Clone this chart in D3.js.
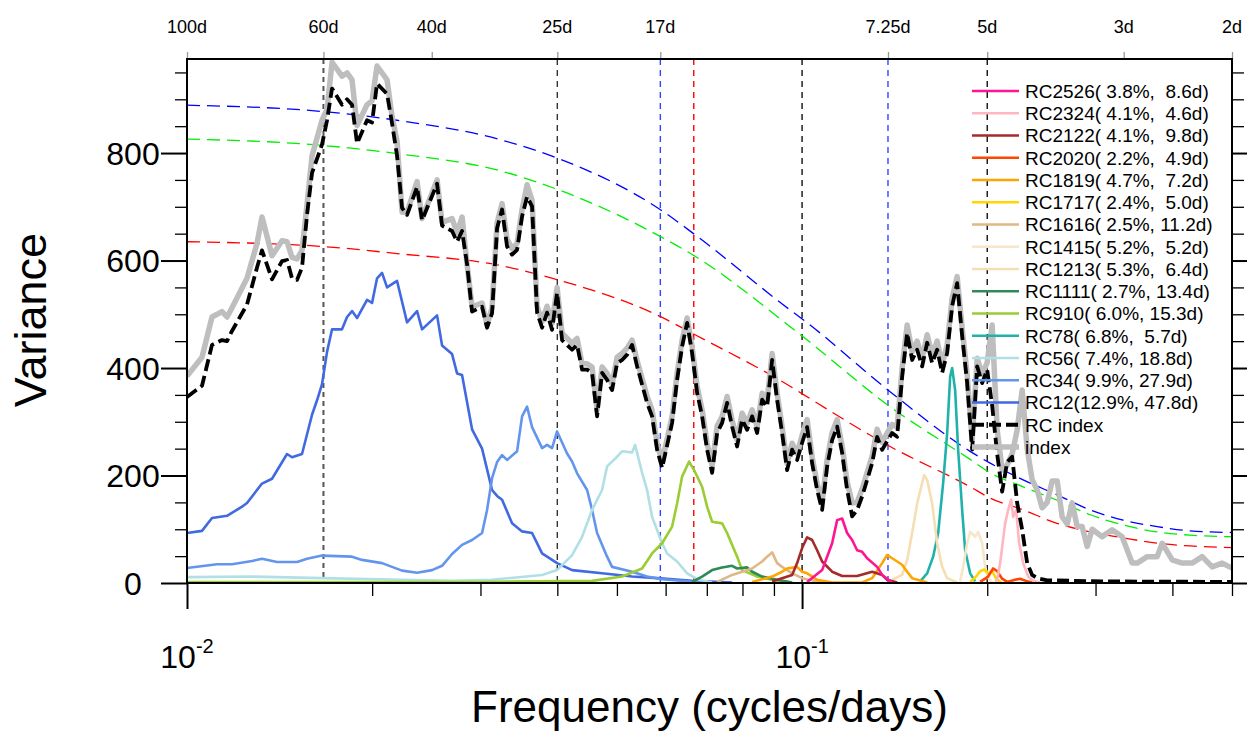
<!DOCTYPE html>
<html>
<head>
<meta charset="utf-8">
<script src="https://cdn.jsdelivr.net/npm/d3@7"></script>
<style>
  body { margin: 0; background: #fff; }
  text { font-family: "Liberation Sans", Arial, Helvetica, sans-serif; fill: #000; }
</style>
</head>
<body>
<svg id="chart" width="1247" height="738"></svg>
<script>
// ---------------------------------------------------------------------------
// Spectra: [frequency (cycles/day), variance]
// ---------------------------------------------------------------------------
const indexSpec = [
  [0.0100,385],[0.010578,420],[0.010981,495],[0.011400,505],[0.011616,495],[0.011835,512],
  [0.012519,567],[0.012997,632],[0.013242,681],[0.013748,609],[0.014272,637],[0.014542,635],
  [0.014817,606],[0.015097,603],[0.015382,619],[0.015673,704],[0.015969,795],[0.016578,861],
  [0.016892,881],[0.017211,969],[0.017867,943],[0.018205,949],[0.018549,936],[0.018900,851],
  [0.019621,890],[0.019992,897],[0.020370,962],[0.021147,936],[0.021547,868],[0.021954,822],
  [0.022369,690],[0.022791,690],[0.023661,747],[0.024108,678],[0.025501,750],[0.025983,671],
  [0.026974,678],[0.027484,652],[0.028002,681],[0.028532,593],[0.029071,514],[0.030180,521],
  [0.030751,480],[0.031331,512],[0.031924,670],[0.032527,706],[0.033142,640],[0.033768,622],
  [0.034406,632],[0.035056,695],[0.035719,741],[0.036393,712],[0.037082,515],[0.037782,487],
  [0.038496,515],[0.039223,483],[0.039965,550],[0.040720,465],[0.042274,446],[0.043073,455],
  [0.043886,408],[0.044716,408],[0.045561,402],[0.046422,322],[0.047299,402],[0.048193,390],
  [0.049104,370],[0.050032,420],[0.050977,427],[0.051941,437],[0.052922,452],[0.053922,414],
  [0.055979,347],[0.057038,322],[0.058115,260],[0.059214,226],[0.061473,310],[0.062634,390],
  [0.063818,452],[0.065024,493],[0.066253,440],[0.067505,366],[0.068781,322],[0.070080,260],
  [0.071405,218],[0.072754,292],[0.074129,310],[0.075530,347],[0.076957,303],[0.078411,266],
  [0.079893,316],[0.081403,297],[0.082941,322],[0.084508,291],[0.086106,353],[0.087733,340],
  [0.089391,427],[0.091080,353],[0.092801,291],[0.094555,222],[0.096342,260],[0.098162,241],
  [0.100017,275],[0.101907,304],[0.103833,235],[0.105795,185],[0.107795,150],[0.109832,230],
  [0.111908,280],[0.114022,304],[0.116177,255],[0.118372,188],[0.120609,149],[0.122888,150],
  [0.125211,175],[0.129988,236],[0.132444,286],[0.134947,262],[0.140096,295],[0.142743,290],
  [0.145440,400],[0.148189,480],[0.150989,430],[0.153843,450],[0.156750,418],[0.159712,462],
  [0.162730,424],[0.165806,450],[0.168938,406],[0.172132,443],[0.175384,530],[0.178699,570],
  [0.182075,475],[0.185517,388],[0.189021,265],[0.192595,418],[0.196232,388],[0.199943,410],
  [0.203719,480],[0.207571,285],[0.211491,210],[0.215491,220],[0.219560,240],[0.223712,285],
  [0.227936,359],[0.232248,250],[0.236632,192],[0.241109,173],[0.245660,140],[0.250308,150],
  [0.255032,190],[0.259858,190],[0.264762,123],[0.269772,110],[0.274863,149],[0.280065,105],
  [0.285350,105],[0.290750,68],[0.296236,100],[0.307538,86],[0.313359,93],[0.319271,99],
  [0.331451,86],[0.344097,37],[0.350612,37],[0.363988,49],[0.377876,49],[0.385001,74],
  [0.399689,43],[0.414938,37],[0.430768,37],[0.447202,49],[0.464264,30],[0.481975,37],[0.5,28]
];

const rcIndexSpec = [
  [0.0100,346],[0.010578,367],[0.010981,443],[0.011400,452],[0.011616,450],[0.011835,469],
  [0.012519,518],[0.012997,587],[0.013242,619],[0.013748,565],[0.014272,599],[0.014542,601],
  [0.014817,567],[0.015097,564],[0.015382,587],[0.015673,685],[0.015969,763],[0.016578,816],
  [0.016892,861],[0.017211,920],[0.017867,890],[0.018205,900],[0.018549,890],[0.018900,818],
  [0.019621,861],[0.019992,857],[0.020370,929],[0.021147,910],[0.021547,855],[0.021954,795],
  [0.022369,698],[0.022791,685],[0.023661,737],[0.024108,675],[0.025501,743],[0.025983,665],
  [0.026974,655],[0.027484,635],[0.028002,655],[0.028532,593],[0.029071,505],[0.030180,514],
  [0.030751,475],[0.031331,502],[0.031924,660],[0.032527,695],[0.033142,626],[0.033768,611],
  [0.034406,620],[0.035056,682],[0.035719,719],[0.036393,701],[0.037082,503],[0.037782,475],
  [0.038496,503],[0.039223,471],[0.039965,540],[0.040720,452],[0.042274,434],[0.043073,443],
  [0.043886,397],[0.044716,397],[0.045561,391],[0.046422,310],[0.047299,391],[0.048193,378],
  [0.049104,359],[0.050032,409],[0.050977,415],[0.051941,425],[0.052922,443],[0.053922,403],
  [0.055979,335],[0.057038,310],[0.058115,248],[0.059214,214],[0.061473,298],[0.062634,378],
  [0.063818,440],[0.065024,484],[0.066253,428],[0.067505,354],[0.068781,310],[0.070080,248],
  [0.071405,205],[0.072754,279],[0.074129,298],[0.075530,335],[0.076957,291],[0.078411,254],
  [0.079893,304],[0.081403,285],[0.082941,310],[0.084508,279],[0.086106,341],[0.087733,328],
  [0.089391,415],[0.091080,341],[0.092801,279],[0.094555,210],[0.096342,248],[0.098162,229],
  [0.100017,261],[0.101907,290],[0.103833,223],[0.105795,173],[0.107795,136],[0.109832,217],
  [0.111908,266],[0.114022,291],[0.116177,242],[0.118372,173],[0.120609,124],[0.122888,136],
  [0.125211,161],[0.129988,223],[0.132444,272],[0.134947,248],[0.140096,279],[0.142743,272],
  [0.145440,384],[0.148189,465],[0.150989,415],[0.153843,434],[0.156750,403],[0.159712,447],
  [0.162730,409],[0.165806,434],[0.168938,391],[0.172132,428],[0.175384,515],[0.178699,558],
  [0.182075,460],[0.185517,372],[0.189021,248],[0.192595,403],[0.196232,372],[0.199943,397],
  [0.203719,330],[0.207571,240],[0.211491,170],[0.215491,225],[0.219560,235],[0.223712,149],
  [0.227936,99],[0.232248,37],[0.236632,15],[0.241109,9],[0.250308,5],[0.307538,3],[0.5,2]
];

// Red-noise reference spectra
const noiseFreq  = [0.0100,0.0167,0.02195,0.03228,0.04011,0.05877,0.06699,0.09561,0.1004,0.1390,
                    0.1876,0.2022,0.2288,0.2597,0.2940,0.3327,0.3778,0.4274,0.5];
const noiseUpper = [889,877,861,825,790,695,648,508,490,356,245,223,192,164,136,117,105,97,94];
const noiseMid   = [826,814,799,767,732,645,608,477,458,328,230,205,179,154,127,108,95,89,86];
const noiseRed   = [635,626,613,591,564,496,462,366,351,254,179,158,136,111,95,84,74,69,66];

// Reconstructed-component spectra
const rc12 = [
  [0.0100,93],[0.010578,97],[0.010981,121],[0.011616,125],[0.012287,142],[0.012519,149],
  [0.013242,185],[0.013748,194],[0.014542,240],[0.014817,234],[0.015382,240],[0.015969,313],
  [0.016271,340],[0.016578,370],[0.016892,430],[0.017211,472],[0.017867,472],[0.018205,495],
  [0.018549,506],[0.018900,493],[0.019621,527],[0.019992,521],[0.020370,567],[0.020755,577],
  [0.021147,550],[0.021954,562],[0.022791,485],[0.023661,506],[0.024108,472],[0.025501,498],
  [0.025983,442],[0.026974,426],[0.027484,390],[0.028002,387],[0.029071,286],[0.030180,250],
  [0.031331,173],[0.031924,162],[0.032527,155],[0.033768,111],[0.035056,96],[0.036393,93],
  [0.037782,55],[0.039965,37],[0.042274,24],[0.047299,18],[0.052922,12],[0.058115,9],
  [0.066253,4],[0.076957,1]
];
const rc34 = [
  [0.0100,28],[0.011189,35],[0.011835,35],[0.012756,41],[0.013242,45],[0.014008,39],
  [0.015097,39],[0.015673,45],[0.016578,51],[0.018549,49],[0.019257,43],[0.020755,37],
  [0.022369,23],[0.023661,19],[0.025028,24],[0.025983,32],[0.026974,54],[0.028002,71],
  [0.029071,80],[0.030180,93],[0.030751,136],[0.031331,195],[0.031924,225],[0.032527,238],
  [0.033142,229],[0.034406,245],[0.035056,310],[0.035719,328],[0.036393,290],[0.037782,251],
  [0.038496,257],[0.039223,251],[0.039965,282],[0.041490,241],[0.042274,226],[0.043073,204],
  [0.044716,173],[0.045561,136],[0.046422,93],[0.048193,49],[0.049104,30],[0.052922,21],
  [0.055979,12],[0.059214,7],[0.068781,1]
];
const rc56 = [
  [0.0100,11],[0.012756,12],[0.016578,9],[0.022369,6],[0.026974,4],[0.031331,6],[0.037782,15],
  [0.039965,24],[0.042274,52],[0.043886,86],[0.045561,136],[0.047299,173],[0.048193,217],
  [0.050032,235],[0.050977,245],[0.052922,243],[0.05352,257],[0.054941,205],[0.055979,173],
  [0.057038,123],[0.059214,74],[0.060332,55],[0.062634,40],[0.065024,18],[0.067505,7],[0.071405,1]
];
const rc78 = [
  [0.15558,3],[0.159712,18],[0.16334,49],[0.16643,93],[0.16957,186],[0.172132,279],[0.17408,384],
  [0.175384,400],[0.17736,359],[0.17937,248],[0.182075,136],[0.18413,61],[0.18761,18],[0.19115,3]
];
const rc910 = [
  [0.0100,2],[0.030180,2],[0.045561,4],[0.050977,12],[0.054941,27],[0.057038,55],[0.059214,74],
  [0.061473,105],[0.062634,148],[0.063818,198],[0.06551,226],[0.06675,210],[0.068781,179],
  [0.070080,142],[0.071405,114],[0.074129,111],[0.075530,93],[0.078411,49],[0.079893,24],
  [0.084508,12],[0.089391,6],[0.096342,1]
];
const rc1111 = [
  [0.066253,2],[0.068781,12],[0.071405,24],[0.074129,29],[0.076957,32],[0.078411,27],
  [0.081403,29],[0.082941,21],[0.086106,12],[0.091080,6],[0.096342,1]
];
const rc1213 = [
  [0.140096,6],[0.145440,15],[0.148189,43],[0.150989,93],[0.153843,148],[0.156750,186],
  [0.15793,201],[0.159712,192],[0.162730,148],[0.165806,74],[0.168938,30],[0.172132,9],[0.178699,1]
];
const rc1415 = [
  [0.18071,3],[0.18276,30],[0.185517,74],[0.18761,95],[0.19115,86],[0.19332,95],
  [0.196232,74],[0.19844,30],[0.20069,9],[0.203719,1]
];
const rc1616 = [
  [0.072754,2],[0.076957,15],[0.082941,27],[0.086106,40],[0.087733,49],[0.089391,57],
  [0.091080,37],[0.092801,30],[0.096342,18],[0.100017,9],[0.107795,1]
];
const rc1717 = [
  [0.18761,2],[0.19187,12],[0.19476,22],[0.19770,25],[0.20069,18],[0.20372,22],[0.20679,8],[0.21070,1]
];
const rc1819 = [
  [0.082941,2],[0.089391,12],[0.092801,21],[0.094555,27],[0.098162,30],[0.100017,21],
  [0.101907,18],[0.105795,6],[0.111908,1],[0.125211,1],[0.129988,9],[0.134947,37],
  [0.137497,52],[0.140096,46],[0.145440,34],[0.148189,21],[0.150989,9],[0.159712,1]
];
const rc2020 = [
  [0.19476,2],[0.20069,12],[0.20448,27],[0.20757,22],[0.21149,8],[0.21549,2],
  [0.22203,6],[0.22623,8],[0.23225,3],[0.23663,1]
];
const rc2122 = [
  [0.089391,3],[0.096342,15],[0.098162,37],[0.100017,65],[0.101907,85],[0.103833,80],
  [0.105795,61],[0.107795,40],[0.111908,21],[0.116177,13],[0.122888,13],[0.129988,21],
  [0.134947,15],[0.137497,6],[0.142743,1]
];
const rc2324 = [
  [0.20601,2],[0.20757,6],[0.20990,37],[0.21387,111],[0.21630,136],[0.21874,155],[0.22038,123],
  [0.22287,136],[0.22539,74],[0.22879,37],[0.23312,12],[0.23752,4],[0.24382,1]
];
const rc2526 = [
  [0.101907,2],[0.107795,24],[0.111908,74],[0.114022,117],[0.116177,120],[0.118372,93],
  [0.120609,80],[0.122888,61],[0.125211,58],[0.127577,46],[0.132444,30],[0.134947,15],[0.140096,1]
];

// Component names, explained variance (%) and dominant period (days), legend order
const rcNames   = ["RC2526","RC2324","RC2122","RC2020","RC1819","RC1717","RC1616","RC1415",
                   "RC1213","RC1111","RC910","RC78","RC56","RC34","RC12"];
const rcPercent = [3.8, 4.1, 4.1, 2.2, 4.7, 2.4, 2.5, 5.2, 5.3, 2.7, 6.0, 6.8, 7.4, 9.9, 12.9];
const rcPeriod  = [8.6, 4.6, 9.8, 4.9, 7.2, 5.0, 11.2, 5.2, 6.4, 13.4, 15.3, 5.7, 18.8, 27.9, 47.8];
const rcColors  = ["#ff1493","#ffb6c1","#a52a2a","#ff4500","#ffa500","#ffd700","#deb887","#f7e6c9",
                   "#f5deb3","#2e8b57","#9acd32","#20b2aa","#b0e0e6","#6495ed","#4169e1"];
const rcSpectra = [rc2526, rc2324, rc2122, rc2020, rc1819, rc1717, rc1616, rc1415,
                   rc1213, rc1111, rc910, rc78, rc56, rc34, rc12];

// Axis ticks and marked periods
const yMajorTicks = [0, 200, 400, 600, 800];
const yMinorTicks = [50,100,150,250,300,350,450,500,550,650,700,750,850,900,950];
const xMajorTicks = [0.01, 0.1];
const xMinorTicks = [0.02,0.03,0.04,0.05,0.06,0.07,0.08,0.09,0.2,0.3,0.4,0.5];
const xMajorExp   = ["-2", "-1"];
const topPeriods  = [100, 60, 40, 25, 17, 7.25, 5, 3, 2];
const markPeriods = [60, 25, 17, 15, 10, 7.25, 5];
const markColors  = ["#555555", "#333333", "#3344ff", "#ff0000", "#111111", "#3344ff", "#111111"];

// ---------------------------------------------------------------------------
const L = 187, R = 1232, T = 59, B = 583;
const svg = d3.select("#chart");
const x = d3.scaleLog().domain([0.01, 0.5]).range([L, R]);
const y = d3.scaleLinear().domain([0, 975]).range([B, T]);

svg.append("defs").append("clipPath").attr("id", "plotClip")
  .append("rect").attr("x", L).attr("y", T).attr("width", R - L).attr("height", B - T);

const plot = svg.append("g").attr("clip-path", "url(#plotClip)");
const line = d3.line().x(d => x(d[0])).y(d => y(d[1]));

// vertical period markers
plot.selectAll("line.mark").data(markPeriods).join("line")
  .attr("class", "mark")
  .attr("x1", p => x(1 / p)).attr("x2", p => x(1 / p))
  .attr("y1", T).attr("y2", B)
  .attr("stroke", (p, i) => markColors[i])
  .attr("stroke-width", (p, i) => i === 0 ? 2 : 1.4)
  .attr("stroke-dasharray", (p, i) => i === 0 ? "5,4" : "6,5");

// red-noise curves
const noiseLine = d3.line().x(d => x(d[0])).y(d => y(d[1])).curve(d3.curveMonotoneX);
[[noiseUpper, "#0000ff"], [noiseMid, "#00ee00"], [noiseRed, "#ff0000"]].forEach(([vals, c]) => {
  plot.append("path")
    .attr("d", noiseLine(noiseFreq.map((f, i) => [f, vals[i]])))
    .attr("fill", "none").attr("stroke", c).attr("stroke-width", 1.3)
    .attr("stroke-dasharray", "13,7");
});

// component spectra (RC12 drawn first)
rcSpectra.slice().reverse().forEach((s, k) => {
  const i = rcSpectra.length - 1 - k;
  plot.append("path").attr("d", line(s))
    .attr("fill", "none").attr("stroke", rcColors[i])
    .attr("stroke-width", 2.6).attr("stroke-linejoin", "round");
});

// full index and reconstructed index
plot.append("path").attr("d", line(indexSpec))
  .attr("fill", "none").attr("stroke", "#bebebe").attr("stroke-width", 5.5)
  .attr("stroke-linejoin", "round");
plot.append("path").attr("d", line(rcIndexSpec))
  .attr("fill", "none").attr("stroke", "#000").attr("stroke-width", 3.8)
  .attr("stroke-dasharray", "12,5").attr("stroke-linejoin", "round");

// ---------------------------------------------------------------------------
// axes
const axes = svg.append("g");
function tickGroup(axisFn, scale, values, size, width, tx, ty, color) {
  const g = axes.append("g").attr("transform", `translate(${tx},${ty})`)
    .call(axisFn(scale).tickValues(values).tickSize(size).tickFormat(""));
  g.select(".domain").remove();
  g.selectAll(".tick line").attr("stroke", color || "#000").attr("stroke-width", width);
  return g;
}
tickGroup(d3.axisLeft, y, yMajorTicks, 26, 2, L, 0);
tickGroup(d3.axisLeft, y, yMinorTicks, 12, 1.3, L, 0);
tickGroup(d3.axisRight, y, yMajorTicks, 26, 2, R, 0);
tickGroup(d3.axisRight, y, yMinorTicks, 12, 1.3, R, 0);
tickGroup(d3.axisBottom, x, xMajorTicks, 26, 2, 0, B);
tickGroup(d3.axisBottom, x, xMinorTicks, 13, 1.3, 0, B);
tickGroup(d3.axisTop, x, topPeriods.map(p => 1 / p), 7, 1.3, 0, T, "#999");

// frame
svg.append("rect").attr("x", L).attr("y", T).attr("width", R - L).attr("height", B - T)
  .attr("fill", "none").attr("stroke", "#000").attr("stroke-width", 2);

// y labels
axes.selectAll("text.ylab").data(yMajorTicks).join("text")
  .attr("class", "ylab")
  .attr("x", 133).attr("y", v => y(v)).attr("dy", "0.36em")
  .attr("text-anchor", "middle").attr("font-size", 32)
  .text(v => v);

// bottom labels (powers of ten)
xMajorTicks.forEach((v, i) => {
  const t = axes.append("text").attr("x", x(v)).attr("y", 668)
    .attr("text-anchor", "middle").attr("font-size", 32);
  t.append("tspan").text("10");
  t.append("tspan").attr("dy", -15).attr("font-size", 20).text(xMajorExp[i]);
});

// top labels (periods)
axes.selectAll("text.toplab").data(topPeriods).join("text")
  .attr("class", "toplab")
  .attr("x", p => x(1 / p)).attr("y", 33)
  .attr("text-anchor", "middle").attr("font-size", 18)
  .text(p => p + "d");

// axis titles
svg.append("text").attr("x", (L + R) / 2).attr("y", 722)
  .attr("text-anchor", "middle").attr("font-size", 44)
  .text("Frequency (cycles/days)");
svg.append("text").attr("transform", "translate(46,320) rotate(-90)")
  .attr("text-anchor", "middle").attr("font-size", 45)
  .text("Variance");

// ---------------------------------------------------------------------------
// legend
const fmt = v => v.toFixed(1).padStart(4, " ");
const legendItems = rcNames.map((n, i) => ({
  label: `${n}(${fmt(rcPercent[i])}%, ${fmt(rcPeriod[i])}d)`,
  color: rcColors[i], width: 2.6, dash: null
})).concat([
  { label: "RC index", color: "#000", width: 3.8, dash: "12,5" },
  { label: "index", color: "#bebebe", width: 5.5, dash: null }
]);
const leg = svg.append("g");
legendItems.forEach((d, i) => {
  const ly = 91 + i * 22.25;
  leg.append("line").attr("x1", 972).attr("x2", 1019).attr("y1", ly).attr("y2", ly)
    .attr("stroke", d.color).attr("stroke-width", d.width)
    .attr("stroke-dasharray", d.dash);
  leg.append("text").attr("x", 1025).attr("y", ly).attr("dy", "0.36em")
    .attr("font-size", 19).style("white-space", "pre")
    .text(d.label);
});
</script>
</body>
</html>
